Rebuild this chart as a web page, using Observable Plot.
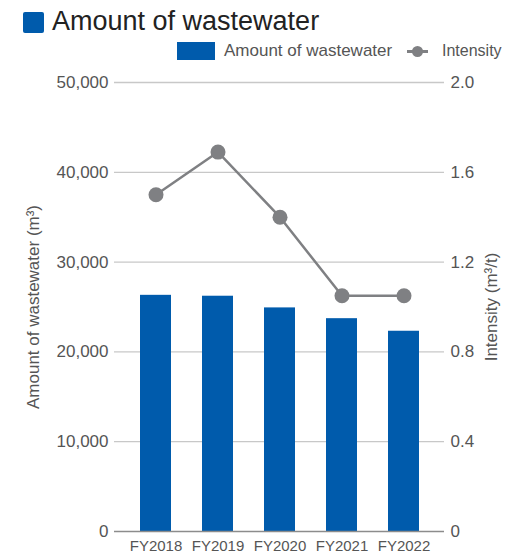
<!DOCTYPE html>
<html>
<head>
<meta charset="utf-8">
<script src="https://cdn.jsdelivr.net/npm/d3@7"></script>
<script src="https://cdn.jsdelivr.net/npm/@observablehq/plot@0.6"></script>
<style>
  body { margin: 0; background: #fff; font-family: "Liberation Sans", Arial, sans-serif; }
  #wrap { width: 506px; }
  #head { position: relative; height: 66px; }
  .title-box { position: absolute; left: 23px; top: 12px; width: 21px; height: 21px; background: #005bac; border-radius: 2px; }
  .title { position: absolute; left: 52px; top: 4px; font-size: 27px; color: #222; line-height: 34px; white-space: nowrap; }
  .lg-bar { position: absolute; left: 177px; top: 42px; width: 38px; height: 18px; background: #005bac; }
  .lg-text { position: absolute; top: 41px; font-size: 17px; color: #555; line-height: 20px; white-space: nowrap; }
  .lg-line { position: absolute; left: 407px; top: 50px; width: 21px; height: 2.5px; background: #7f8083; }
  .lg-dot { position: absolute; left: 412px; top: 46px; width: 11px; height: 11px; border-radius: 50%; background: #7f8083; }
</style>
</head>
<body>
<div id="wrap">
  <div id="head">
    <div class="title-box"></div>
    <div class="title">Amount of wastewater</div>
    <div class="lg-bar"></div>
    <div class="lg-text" style="left:224px">Amount of wastewater</div>
    <div class="lg-line"></div>
    <div class="lg-dot"></div>
    <div class="lg-text" style="left:442px; font-size:16px">Intensity</div>
  </div>
  <div id="chart"></div>
</div>
<script>
// Fiscal years and the two series
const years = ["FY2018", "FY2019", "FY2020", "FY2021", "FY2022"];
const wastewater = [26300, 26200, 24900, 23700, 22300];   // m³
const intensity = [1.50, 1.69, 1.40, 1.05, 1.05];        // m³/t

// Left axis ticks (m³) and right axis tick labels (m³/t)
const leftTicks = [0, 10000, 20000, 30000, 40000, 50000];
const rightTickLabels = ["0", "0.4", "0.8", "1.2", "1.6", "2.0"];

// Intensity is drawn on the shared y scale: 2.0 m³/t ↔ 50,000 m³
const ratio = 50000 / 2.0;

const rows = years.map((year, i) => ({year, wastewater: wastewater[i], intensity: intensity[i]}));

const blue = "#005bac";
const gray = "#7f8083";
const textColor = "#555";

const chart = Plot.plot({
  width: 506,
  height: 490,
  marginTop: 16,
  marginBottom: 25,
  marginLeft: 114,
  marginRight: 62,
  style: {fontFamily: "'Liberation Sans', Arial, sans-serif", fontSize: "17px", color: textColor, background: "#fff"},
  x: {domain: years, paddingInner: 0.5, paddingOuter: 0.37, label: null},
  y: {domain: [0, 50000], label: null},
  marks: [
    Plot.gridY(leftTicks.slice(1), {stroke: "#c8c8c8", strokeOpacity: 1, strokeWidth: 1.3}),
    Plot.barY(rows, {x: "year", y: "wastewater", fill: blue}),
    Plot.ruleY([0], {stroke: "#8c8c8c", strokeWidth: 1.5}),
    Plot.line(rows, {x: "year", y: d => d.intensity * ratio, stroke: gray, strokeWidth: 2.5}),
    Plot.dot(rows, {x: "year", y: d => d.intensity * ratio, r: 7.5, fill: gray}),
    Plot.axisY(leftTicks, {
      anchor: "left", tickSize: 0, tickPadding: 6, tickFormat: d3.format(","),
      label: "Amount of wastewater (m³)", labelAnchor: "center", labelOffset: 88, labelArrow: "none"
    }),
    Plot.axisY(leftTicks, {
      anchor: "right", tickSize: 0, tickPadding: 6,
      tickFormat: (d, i) => rightTickLabels[i],
      label: "Intensity (m³/t)", labelAnchor: "center", labelOffset: 52, labelArrow: "none"
    }),
    Plot.axisX({tickSize: 0, tickPadding: 9, fontSize: 15, label: null})
  ]
});

document.getElementById("chart").appendChild(chart);
</script>
</body>
</html>
